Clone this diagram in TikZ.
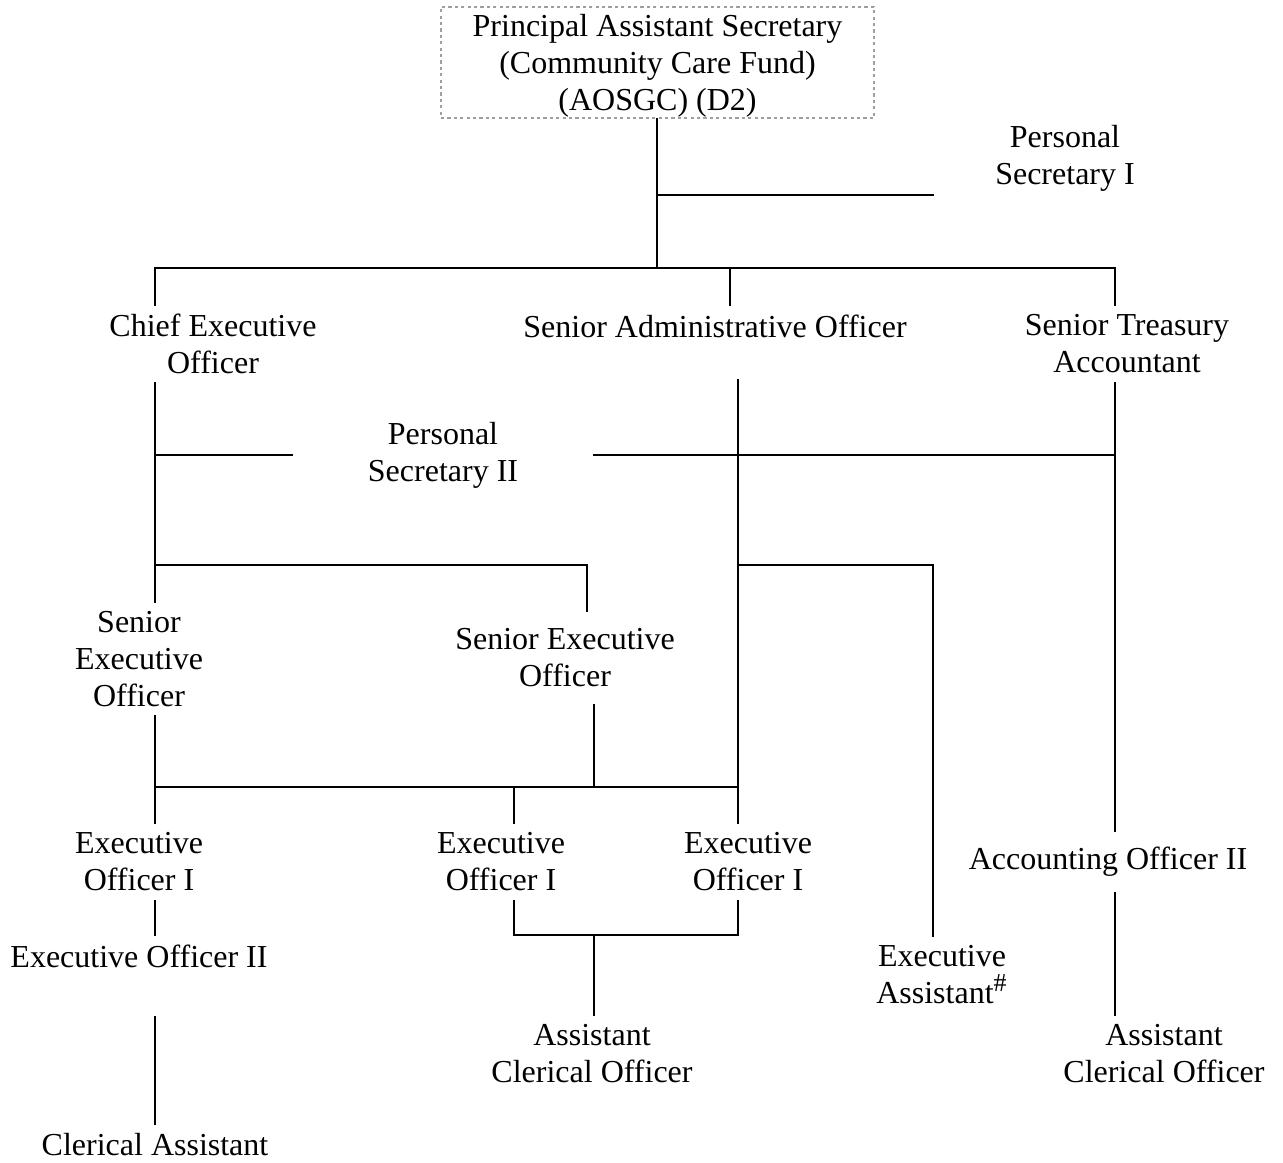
\documentclass[tikz,border=0pt]{standalone}
\usepackage{fontspec}
\setmainfont{Liberation Serif}
\usepackage{tikz}
\usetikzlibrary{positioning, calc}

\begin{document}
\begin{tikzpicture}[
    x=0.5pt, y=-0.5pt,
    post/.style={align=center, inner sep=4.5pt,
        font=\fontsize{16}{18.5}\selectfont},
    headbox/.style={post, draw=gray!75, line width=0.6pt,
        dash pattern=on 1.6pt off 1.6pt, inner ysep=0pt, text depth=0pt,
        minimum width=216.5pt, minimum height=55.5pt},
    link/.style={line width=1pt, line cap=rect}
]
\useasboundingbox (0,0) rectangle (1283,1162);

% posts
\node[headbox] (pas) at (657.5,62.5)
    {Principal Assistant Secretary\\
     (Community Care Fund)\\
     (AOSGC) (D2)};
\node[post] (psone) at (1065,158) {Personal\\Secretary I};
\node[post] (ceo) at (213,344) {Chief Executive\\Officer};
\node[post] (sao) at (715,326) {Senior Administrative Officer};
\node[post] (sta) at (1127,344) {Senior Treasury\\Accountant};
\node[post, minimum width=151pt] (pstwo) at (443,455) {Personal\\Secretary II};
\node[post] (seoa) at (139,659) {Senior\\Executive\\Officer};
\node[post, inner ysep=8.5pt] (seob) at (565,658) {Senior Executive\\Officer};
\node[post] (eoa) at (139,862) {Executive\\Officer I};
\node[post] (eob) at (501,862) {Executive\\Officer I};
\node[post] (eoc) at (748,862) {Executive\\Officer I};
\node[post, inner ysep=8pt] (aotwo) at (1108,862) {Accounting Officer II};
\node[post] (eotwo) at (139,956) {Executive Officer II};
\node[post] (ea) at (942,975)
    {Executive\\Assistant\textsuperscript{\fontsize{13}{13}\selectfont\#}};
\node[post] (acoa) at (592,1054) {Assistant\\Clerical Officer};
\node[post] (acob) at (1164,1054) {Assistant\\Clerical Officer};
\node[post] (ca) at (155,1145) {Clerical Assistant};

% columns and junctions
\coordinate (xa) at (155,0);
\coordinate (xs) at (730,0);
\coordinate (xc) at (738,0);
\coordinate (xd) at (1115,0);
\coordinate (xe) at (933,0);
\coordinate (xm) at (514,0);
\coordinate (xsb) at (587,0);
\coordinate (xsc) at (594,0);
\coordinate (topbus) at (657,268);
\coordinate (psonejn) at (657,195);
\coordinate (psonend) at (933,195);
\coordinate (seobus) at (155,565);
\coordinate (eobus) at (155,787);
\coordinate (acobus) at (594,935);
\coordinate (saodrop) at (738,380);
\coordinate (catap) at (155,1017);

% top level
\draw[link] (pas.south -| topbus) -- (topbus);
\draw[link] (psonejn) -- (psonend);
\draw[link] (ceo.north -| xa) |- (topbus) -| (sta.north -| xd);
\draw[link] (topbus -| xs) -- (sao.north -| xs);

% chief executive officer
\draw[link] (ceo.south -| xa) -- (seoa.north -| xa);
\draw[link] (xa |- pstwo) -- (pstwo.west);
\draw[link] (seobus) -| (seob.north -| xsb);

% senior treasury accountant
\draw[link] (pstwo.east) -- (pstwo.east -| xd);
\draw[link] (sta.south -| xd) -- (aotwo.north -| xd);
\draw[link] (aotwo.south -| xd) -- (acob.north -| xd);

% senior administrative officer
\draw[link] (saodrop) -- (eoc.north -| xc);
\draw[link] (xc |- seobus) -| (ea.north -| xe);

% executive officers
\draw[link] (seoa.south -| xa) -- (eoa.north -| xa);
\draw[link] (eobus) -- (xc |- eobus);
\draw[link] (seob.south -| xsc) -- (xsc |- eobus);
\draw[link] (xm |- eobus) -- (eob.north -| xm);
\draw[link] (eoa.south -| xa) -- (eotwo.north -| xa);
\draw[link] (catap) -- (ca.north);
\draw[link] (eob.south -| xm) |- (acobus) -| (eoc.south -| xc);
\draw[link] (acobus) -- (acoa.north -| acobus);
\end{tikzpicture}
\end{document}
